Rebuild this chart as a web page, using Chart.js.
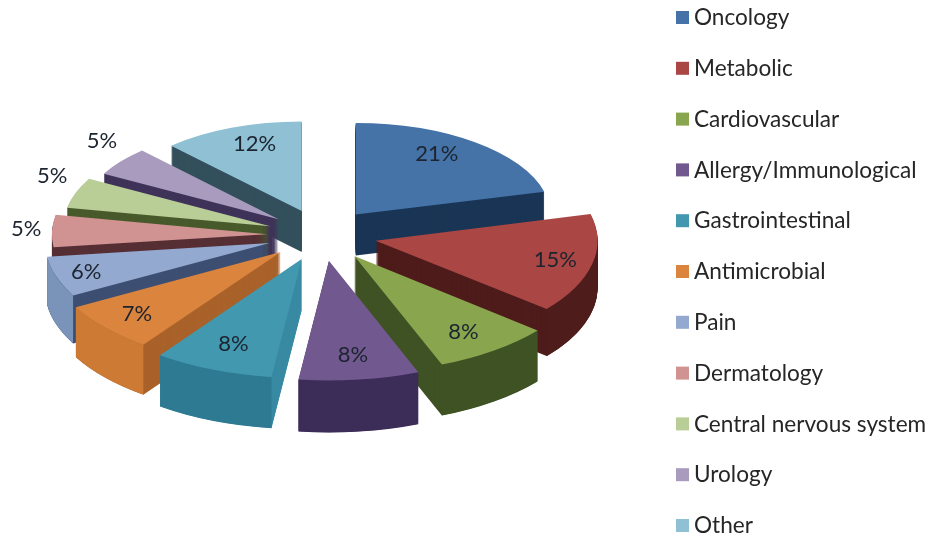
<!DOCTYPE html>
<html>
<head>
<meta charset="utf-8">
<style>
html,body{margin:0;padding:0;background:#fff;overflow:hidden}
canvas{display:block;filter:blur(0.6px)}
</style>
<script src="https://cdn.jsdelivr.net/npm/chart.js@4"></script>
</head>
<body>
<canvas id="c" width="930" height="537"></canvas>
<script>
const categories = ["Oncology","Metabolic","Cardiovascular","Allergy/Immunological","Gastrointestinal","Antimicrobial","Pain","Dermatology","Central nervous system","Urology","Other"];
const shares = [21,15,8,8,8,7,6,5,5,5,12];
const topColors = ["#4573a8","#aa4643","#89a54e","#71588f","#4198af","#db843d","#93a9cf","#d19392","#b9cd96","#a99bbd","#8fc0d3"];
const rimColors = ["#1a3555","#4e1c1b","#3f5224","#3c2c58","#2e7a93","#cd7a35","#7a93b8","#562f35","#485a2b","#3f3359","#33505c"];
const sideColors = ["#1a3555","#4e1c1b","#3f5224","#3c2c58","#3a8aa3","#a9622a","#3d4f72","#562f35","#485a2b","#3f3359","#33505c"];
const labelReach = [.68,.83,.78,.79,.77,.82,.86,1.12,1.12,1.12,.67];
const labelLift = [11,0,-2,0,0,0,0,2,13,13,11];

const TILT = .481, TILT_SWING = .013, EXPLODE = 55, EXPLODE_TILT = .47, PERSPECTIVE = .125, DEPTH = 46, RADIUS = 216, CENTER_Y = 235;
const LABEL_FONT = "22px Lato", LEGEND_FONT = "22.6px Lato";

const pie3d = {
  id: 'pie3d',
  beforeDatasetsDraw(chart) {
    const ctx = chart.ctx;
    const arcs = chart.getDatasetMeta(0).data;
    const order = arcs.map((a, i) => i).sort((p, q) =>
      Math.sin((arcs[p].startAngle + arcs[p].endAngle) / 2) - Math.sin((arcs[q].startAngle + arcs[q].endAngle) / 2));
    order.forEach(i => {
      const arc = arcs[i];
      const mid = (arc.startAngle + arc.endAngle) / 2;
      const s = 1 + PERSPECTIVE * Math.sin(mid);
      const k = TILT + TILT_SWING * Math.sin(mid);
      const depth = DEPTH * s;
      const place = z => {
        ctx.translate(arc.x + EXPLODE * Math.cos(mid), CENTER_Y + z + EXPLODE * EXPLODE_TILT * Math.sin(mid));
        ctx.scale(s, s * k);
        ctx.translate(-arc.x, -arc.y);
      };
      const saved = arc.options;
      arc.options = Object.assign({}, saved, {backgroundColor: sideColors[i]});
      for (let z = Math.round(depth); z >= 1; z--) {
        ctx.save(); place(z); arc.draw(ctx); ctx.restore();
      }
      arc.options = saved;
      const a0 = Math.max(arc.startAngle, 0), a1 = Math.min(arc.endAngle, Math.PI);
      if (a1 > a0) {
        ctx.save(); place(0);
        const zl = depth / (s * k);
        ctx.beginPath();
        ctx.arc(arc.x, arc.y, arc.outerRadius, a0, a1);
        ctx.arc(arc.x, arc.y + zl, arc.outerRadius, a1, a0, true);
        ctx.closePath();
        ctx.fillStyle = rimColors[i];
        ctx.fill();
        ctx.restore();
      }
      ctx.save(); place(0); arc.draw(ctx); ctx.restore();
    });
    ctx.save();
    ctx.font = LABEL_FONT;
    ctx.fillStyle = "#1c2430";
    ctx.textAlign = "center";
    ctx.textBaseline = "middle";
    arcs.forEach((arc, i) => {
      const mid = (arc.startAngle + arc.endAngle) / 2;
      const s = 1 + PERSPECTIVE * Math.sin(mid);
      const k = TILT + TILT_SWING * Math.sin(mid);
      const r = arc.outerRadius * s * labelReach[i];
      const x = arc.x + EXPLODE * Math.cos(mid) + r * Math.cos(mid);
      const y = CENTER_Y + EXPLODE * EXPLODE_TILT * Math.sin(mid) + r * k * Math.sin(mid) - labelLift[i];
      ctx.fillText(shares[i] + "%", x, y);
    });
    ctx.restore();
    return false;
  },
  afterDraw(chart) {
    const ctx = chart.ctx;
    ctx.save();
    ctx.font = LEGEND_FONT;
    ctx.textBaseline = "middle";
    categories.forEach((name, i) => {
      const y = 18 + i * 50.8;
      ctx.fillStyle = topColors[i];
      ctx.fillRect(676, y - 7, 13, 13);
      ctx.fillStyle = "#262626";
      ctx.fillText(name, 694, y);
    });
    ctx.restore();
  }
};

new Chart(document.getElementById('c'), {
  type: 'pie',
  data: { labels: categories, datasets: [{ data: shares, backgroundColor: topColors, borderWidth: 0 }] },
  options: {
    responsive: false,
    animation: false,
    radius: RADIUS,
    layout: { padding: { right: 286 } },
    plugins: { legend: { display: false }, tooltip: { enabled: false } }
  },
  plugins: [pie3d]
});
</script>
</body>
</html>
